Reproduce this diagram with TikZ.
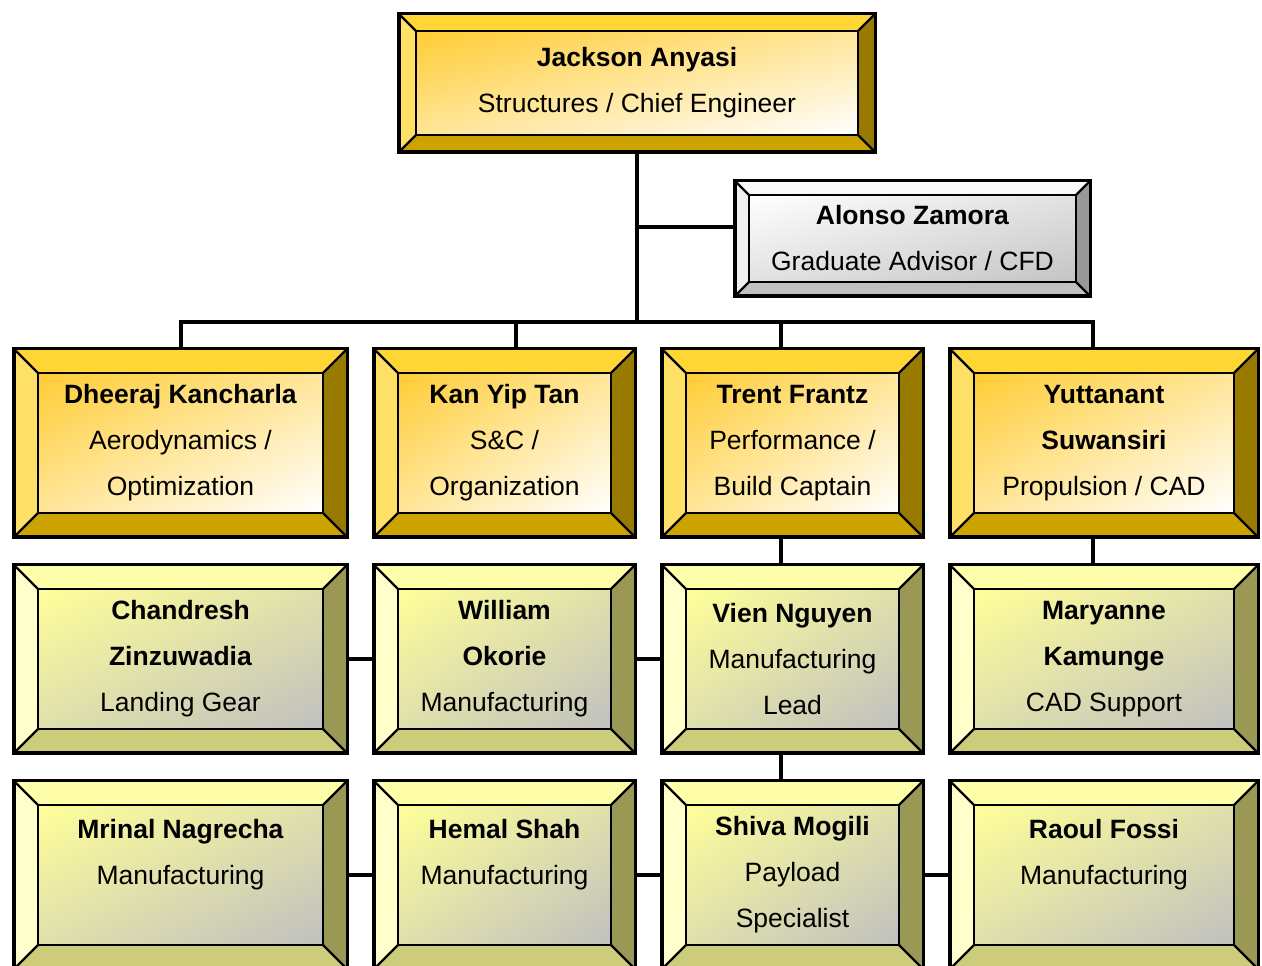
\documentclass[tikz,border=0pt]{standalone}
\usepackage{fontspec}
\setmainfont{Liberation Sans}
\usepackage{tikz}
\usetikzlibrary{positioning,shadings}

\definecolor{goldtop}{HTML}{FFD633}
\definecolor{goldleft}{HTML}{FFE066}
\definecolor{goldbot}{HTML}{CCA300}
\definecolor{goldright}{HTML}{997A00}
\definecolor{goldin}{HTML}{FFCC33}
\definecolor{pale}{HTML}{FFFFFF}
\definecolor{lemtop}{HTML}{FFFFAA}
\definecolor{lemleft}{HTML}{FFFFCC}
\definecolor{lembot}{HTML}{CCCC7A}
\definecolor{lemright}{HTML}{999955}
\definecolor{lemin}{HTML}{FFFF99}
\definecolor{lemout}{HTML}{C0C0C0}
\definecolor{greytop}{HTML}{FAFAFA}
\definecolor{greyleft}{HTML}{F0F0F0}
\definecolor{greybot}{HTML}{C0C0C0}
\definecolor{greyright}{HTML}{999999}
\definecolor{greyout}{HTML}{C4C4C4}

% bevelled frame: top, left, bottom, right, inner from, inner to, bevel
\newcommand{\bevelbox}[7]{%
  \path (path picture bounding box.south west) coordinate (sw)
        (path picture bounding box.north east) coordinate (ne)
        (path picture bounding box.north west) coordinate (nw)
        (path picture bounding box.south east) coordinate (se)
        ([shift={(#7pt,#7pt)}]sw) coordinate (isw)
        ([shift={(-#7pt,-#7pt)}]ne) coordinate (ine)
        ([shift={(#7pt,-#7pt)}]nw) coordinate (inw)
        ([shift={(-#7pt,#7pt)}]se) coordinate (ise);
  \fill[#1] (nw) -- (ne) -- (ine) -- (inw) -- cycle;
  \fill[#2] (nw) -- (inw) -- (isw) -- (sw) -- cycle;
  \fill[#3] (sw) -- (isw) -- (ise) -- (se) -- cycle;
  \fill[#4] (se) -- (ise) -- (ine) -- (ne) -- cycle;
  \draw[line width=2.2pt] (nw) -- (inw) (ne) -- (ine) (sw) -- (isw) (se) -- (ise);
  \shadedraw[line width=2.2pt, upper left=#5, lower right=#6,
    upper right=#5!50!#6, lower left=#5!50!#6] (isw) rectangle (ine);
}

\begin{document}
\begin{tikzpicture}[
  x=1pt, y=1pt,
  card/.style={draw, line width=3.5pt, align=center, inner sep=0pt,
    font=\fontsize{26.5}{46}\selectfont},
  goldcard/.style={card, path picture={\bevelbox{goldtop}{goldleft}{goldbot}{goldright}{goldin}{pale}{#1}}},
  goldcard/.default=24,
  lemcard/.style={card, path picture={\bevelbox{lemtop}{lemleft}{lembot}{lemright}{lemin}{lemout}{24}}},
  greycard/.style={card, path picture={\bevelbox{greytop}{greyleft}{greybot}{greyright}{pale}{greyout}{14}}},
  wide/.style={minimum width=333.5pt, minimum height=188.5pt},
  narrow/.style={minimum width=261.5pt, minimum height=188.5pt},
  broad/.style={minimum width=308.5pt, minimum height=188.5pt},
  link/.style={line width=4pt},
]
  \useasboundingbox (0,0) rectangle (1262,966);
  \clip (0,0) rectangle (1262,966);

  \node[goldcard=17, minimum width=476.5pt, minimum height=138.5pt] (jackson) at (637,883)
    {\textbf{Jackson Anyasi}\\Structures / Chief Engineer};
  \node[greycard, minimum width=355.5pt, minimum height=115.5pt] (alonso) at (912.5,727.5)
    {\textbf{Alonso Zamora}\\Graduate Advisor / CFD};

  \node[goldcard, wide] (dheeraj) at (180.5,523)
    {\textbf{Dheeraj Kancharla}\\Aerodynamics /\\Optimization};
  \node[goldcard, narrow, right=23pt of dheeraj] (kan)
    {\textbf{Kan Yip Tan}\\S\&C /\\Organization};
  \node[goldcard, narrow, right=23pt of kan] (trent)
    {\textbf{Trent Frantz}\\Performance /\\Build Captain};
  \node[goldcard, broad, right=23pt of trent] (yutt)
    {\textbf{Yuttanant}\\\textbf{Suwansiri}\\Propulsion / CAD};

  \node[lemcard, wide, below=24pt of dheeraj] (chandresh)
    {\textbf{Chandresh}\\\textbf{Zinzuwadia}\\Landing Gear};
  \node[lemcard, narrow, below=24pt of kan] (william)
    {\textbf{William}\\\textbf{Okorie}\\Manufacturing};
  \node[lemcard, narrow, below=24pt of trent] (vien)
    {\textbf{Vien Nguyen}\\Manufacturing\\Lead};
  \node[lemcard, broad, below=24pt of yutt] (maryanne)
    {\textbf{Maryanne}\\\textbf{Kamunge}\\CAD Support};

  \node[lemcard, wide, below=24pt of chandresh] (mrinal)
    {\textbf{Mrinal Nagrecha}\\Manufacturing\\\mbox{}};
  \node[lemcard, narrow, below=24pt of william] (hemal)
    {\textbf{Hemal Shah}\\Manufacturing\\\mbox{}};
  \node[lemcard, narrow, below=24pt of vien] (shiva)
    {\textbf{Shiva Mogili}\\Payload\\Specialist};
  \node[lemcard, broad, below=24pt of maryanne] (raoul)
    {\textbf{Raoul Fossi}\\Manufacturing\\\mbox{}};

  % tree lines
  \coordinate (bus) at (637,644);
  \coordinate (alonsotap) at ([yshift=11pt]alonso.west);
  \coordinate (kantap) at ([xshift=11.5pt]kan.north);
  \coordinate (trenttap) at ([xshift=-11.5pt]trent.north);
  \coordinate (yutttap) at ([xshift=-11pt]yutt.north);

  \draw[link, line width=4.5pt] (jackson.south) -- (bus);
  \draw[link] (jackson.south |- alonsotap) -- (alonsotap);
  \draw[link] (dheeraj.north) -- (bus -| dheeraj.north) -- (bus -| yutttap) -- (yutttap);
  \draw[link] (bus -| kantap) -- (kantap);
  \draw[link] (bus -| trenttap) -- (trenttap);

  \draw[link] (trent.south -| trenttap) -- (vien.north -| trenttap);
  \draw[link] (yutt.south -| yutttap) -- (maryanne.north -| yutttap);
  \draw[link] (vien.south -| trenttap) -- (shiva.north -| trenttap);

  \draw[link] (chandresh.east) -- (william.west);
  \draw[link] (william.east) -- (vien.west);
  \draw[link] (mrinal.east) -- (hemal.west);
  \draw[link] (hemal.east) -- (shiva.west);
  \draw[link] (shiva.east) -- (raoul.west);
\end{tikzpicture}
\end{document}
